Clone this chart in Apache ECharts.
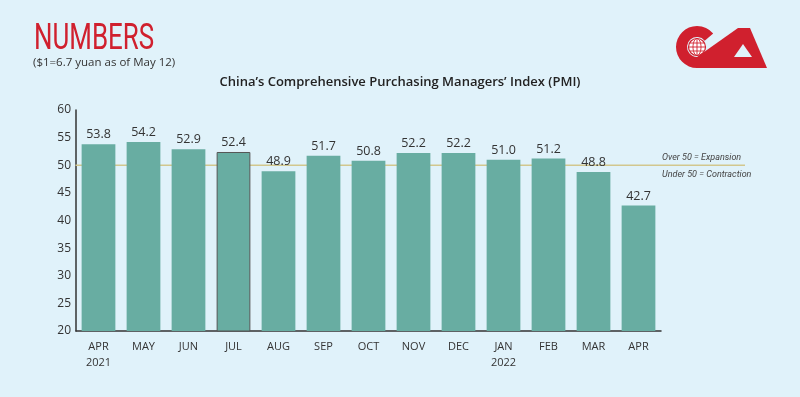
<!DOCTYPE html>
<html>
<head>
<meta charset="utf-8">
<script src="https://cdn.jsdelivr.net/npm/echarts@6/dist/echarts.min.js"></script>
<style>
  html, body { margin: 0; padding: 0; background: #e0f2fa; }
  #chart { width: 800px; height: 397px; }
</style>
</head>
<body>
<div id="chart"></div>
<script>
// 数据
var months = ['APR\n2021', 'MAY', 'JUN', 'JUL', 'AUG', 'SEP', 'OCT', 'NOV', 'DEC', 'JAN\n2022', 'FEB', 'MAR', 'APR'];
var pmi = [53.8, 54.2, 52.9, 52.4, 48.9, 51.7, 50.8, 52.2, 52.2, 51.0, 51.2, 48.8, 42.7];
var yTicks = [20, 60, 5];   // min, max, interval
var threshold = 50;
var outlined = ['JUL'];     // 有深色边框的柱子

var myChart = echarts.init(document.getElementById('chart'));

var red = '#d0202e';
var bg = '#e0f2fa';
var option = {
  backgroundColor: bg,
  animation: false,
  textStyle: { fontFamily: 'Open Sans' },
  title: [
    {
      text: '($1=6.7 yuan as of May 12)',
      left: 28, top: 52,
      textStyle: { color: '#333', fontFamily: 'Open Sans', fontWeight: 'normal', fontSize: 11.5 }
    },
    {
      text: 'China\u2019s Comprehensive Purchasing Managers\u2019 Index (PMI)',
      left: 'center', top: 71,
      textStyle: { color: '#222', fontFamily: 'Open Sans', fontWeight: 600, fontSize: 13 }
    }
  ],
  grid: { left: 76, right: 139, top: 110, bottom: 66 },
  xAxis: {
    type: 'category',
    data: months,
    axisLine: { lineStyle: { color: '#333', width: 1.5 } },
    axisTick: { show: false },
    axisLabel: { color: '#333', fontSize: 11, margin: 8, lineHeight: 16, interval: 0 }
  },
  yAxis: {
    type: 'value',
    min: yTicks[0], max: yTicks[1], interval: yTicks[2],
    axisLine: { show: true, lineStyle: { color: '#333', width: 1.5 } },
    axisTick: { show: false },
    splitLine: { show: false },
    axisLabel: { color: '#333', fontSize: 12, margin: 5 }
  },
  series: [{
    type: 'bar',
    z: 3,
    barCategoryGap: '25%',
    data: pmi.map(function (v, i) {
      var item = { value: v };
      if (outlined.indexOf(months[i]) >= 0) {
        item.itemStyle = { borderColor: '#555', borderWidth: 1 };
      }
      return item;
    }),
    itemStyle: { color: '#68ada2' },
    label: {
      show: true, position: 'top', distance: 3,
      color: '#333', fontSize: 12.5,
      formatter: function (p) { return p.value.toFixed(1); }
    }
  }]
};
myChart.setOption(option);

// 50 参考线 + 说明文字（位置通过坐标轴换算）
var y50 = myChart.convertToPixel({ yAxisIndex: 0 }, threshold);
var x0 = myChart.convertToPixel({ xAxisIndex: 0 }, 0) - 23;
var lineEnd = 745;
var noteFont = 'italic 9px Roboto';
myChart.setOption({
  graphic: [
    { type: 'line', z: 1, shape: { x1: x0, y1: y50, x2: lineEnd, y2: y50 },
      style: { stroke: '#d2c78e', lineWidth: 1.5 } },
    { type: 'text', x: 662, y: y50 - 8,
      style: { text: 'Over 50 = Expansion', fill: '#444', font: noteFont, verticalAlign: 'middle' } },
    { type: 'text', x: 662, y: y50 + 9.5,
      style: { text: 'Under 50 = Contraction', fill: '#444', font: noteFont, verticalAlign: 'middle' } },
    // NUMBERS 标题（横向压缩）
    { type: 'text', x: 34, y: 22, scaleX: 0.72,
      style: { text: 'NUMBERS', fill: red, font: '36px Roboto', verticalAlign: 'top' } },
    // logo
    { type: 'sector', shape: { cx: 697, cy: 47, r: 21, r0: 10, startAngle: Math.PI * 0.5, endAngle: Math.PI * 1.78, clockwise: true },
      style: { fill: red } },
    { type: 'polygon', shape: { points: [[697, 57], [738, 28], [750, 28], [767, 68], [697, 68]] },
      style: { fill: red } },
    { type: 'polygon', shape: { points: [[743, 44], [734, 57], [752, 57]] },
      style: { fill: bg } },
    { type: 'circle', shape: { cx: 697, cy: 47, r: 8.5 }, style: { fill: '#fff', stroke: red, lineWidth: 1.2 } },
    { type: 'ellipse', shape: { cx: 697, cy: 47, rx: 4, ry: 8.5 }, style: { fill: 'none', stroke: red, lineWidth: 0.9 } },
    { type: 'line', shape: { x1: 689, y1: 47, x2: 705, y2: 47 }, style: { stroke: red, lineWidth: 0.9 } },
    { type: 'line', shape: { x1: 697, y1: 39, x2: 697, y2: 55 }, style: { stroke: red, lineWidth: 0.9 } },
    { type: 'line', shape: { x1: 690, y1: 43, x2: 704, y2: 43 }, style: { stroke: red, lineWidth: 0.9 } },
    { type: 'line', shape: { x1: 690, y1: 51, x2: 704, y2: 51 }, style: { stroke: red, lineWidth: 0.9 } }
  ]
});
</script>
</body>
</html>
